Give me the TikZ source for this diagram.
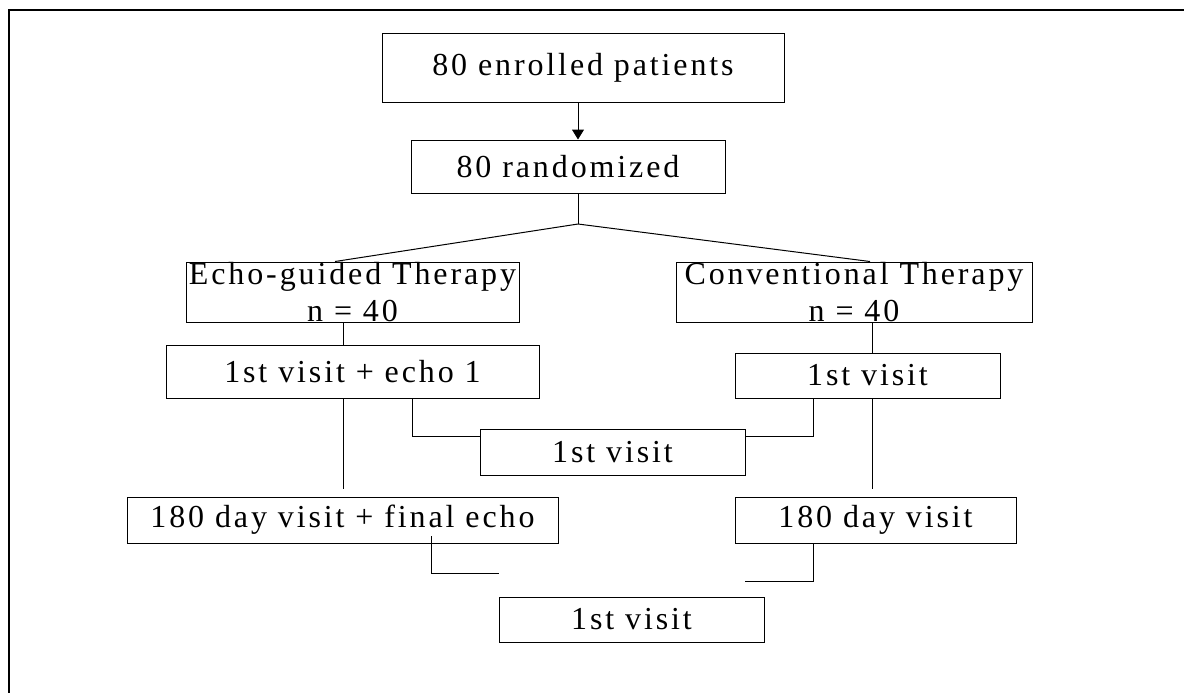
\documentclass[tikz,border=0pt]{standalone}
\usepackage{fontspec}
\setmainfont{Liberation Serif}[LetterSpace=9]
\usetikzlibrary{arrows.meta}

\begin{document}
\begin{tikzpicture}[x=0.5pt, y=-0.5pt,
  flowbox/.style={draw, line width=0.5pt, inner sep=0pt, align=center,
    font=\fontsize{16}{18.5}\selectfont},
  link/.style={line width=0.5pt}]
\useasboundingbox (0,0) rectangle (1184,693);
\draw[line width=1.1pt] (1184,10) -- (9,10) -- (9,693);

\node[flowbox, minimum width=201pt, minimum height=34.5pt] (enrolled) at (583,67.5){80 enrolled patients};
\node[flowbox, minimum width=157pt, minimum height=26.5pt] (randomized) at (568,166.5){80 randomized};
\node[flowbox, minimum width=166.5pt, minimum height=30pt] (echo) at (352.5,292){Echo-guided Therapy\\n = 40};
\node[flowbox, minimum width=178pt, minimum height=30pt] (conv) at (854,292){Conventional Therapy\\n = 40};
\node[flowbox, minimum width=186.5pt, minimum height=26.5pt] (visitecho) at (352.5,371.5){1st visit + echo 1};
\node[flowbox, minimum width=132.5pt, minimum height=22.5pt] (visitconv) at (867.5,375.5){1st visit};
\node[flowbox, minimum width=132.5pt, minimum height=23pt] (visitmid) at (612.5,452){1st visit};
\node[flowbox, minimum width=215.5pt, minimum height=23pt] (finalecho) at (342.5,520){180 day visit + final echo};
\node[flowbox, minimum width=140.5pt, minimum height=23pt] (dayconv) at (875.5,520){180 day visit};
\node[flowbox, minimum width=132.5pt, minimum height=22.5pt] (visitbot) at (631.5,619.5){1st visit};

\coordinate (split) at (578,224);
\coordinate (echoend) at (343,489);
\coordinate (convend) at (872,489);
\coordinate (finalstart) at (431,536);
\coordinate (finalend) at (499,573);
\coordinate (dayend) at (745,581);

\draw[link, -{Triangle[width=6pt, length=5pt]}] (enrolled.south -| split) -- (randomized.north -| split);
\draw[link] (randomized.south -| split) -- (split);
\draw[link] (split) -- (335,0 |- echo.north);
\draw[link] (split) -- (870,0 |- conv.north);
\draw[link] (343,0 |- echo.south) -- (343,0 |- visitecho.north);
\draw[link] (872,0 |- conv.south) -- (872,0 |- visitconv.north);
\draw[link] (echoend |- visitecho.south) -- (echoend);
\draw[link] (412,0 |- visitecho.south) -- (412,436) -- (visitmid.west |- 0,436);
\draw[link] (813,0 |- visitconv.south) -- (813,436) -- (visitmid.east |- 0,436);
\draw[link] (convend |- visitconv.south) -- (convend);
\draw[link] (finalstart) |- (finalend);
\draw[link] (813,0 |- dayconv.south) |- (dayend);

\end{tikzpicture}
\end{document}
